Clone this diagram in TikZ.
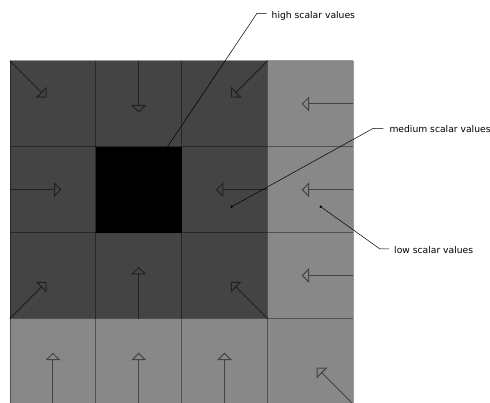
\documentclass[tikz,border=0pt]{standalone}
\usepackage{fontspec}
\setmainfont{DejaVu Sans}
\usetikzlibrary{arrows.meta}
\definecolor{darkcell}{HTML}{444444}
\definecolor{lightcell}{HTML}{888888}
\tikzset{
  cell/.style={rectangle, inner sep=0pt, minimum width=85.8pt, minimum height=85.8pt, draw=none},
  dk/.style={cell, fill=darkcell},
  lt/.style={cell, fill=lightcell},
  bk/.style={cell, fill=black},
  gridline/.style={draw=black, draw opacity=0.4, line width=1pt},
  vec/.style={draw=black, draw opacity=0.5, line width=1pt,
    -{Triangle[open, width=15pt, length=7.5pt]}},
  leader/.style={draw=black, line width=0.5pt},
  dot/.style={circle, fill=black, inner sep=0pt, minimum size=2.6pt},
  lbl/.style={anchor=base west, inner sep=0pt, font=\fontsize{9.2pt}{11pt}\selectfont, text=black}
}
\begin{document}
\begin{tikzpicture}[x=1pt, y=1pt]
\clip (0,0) rectangle (490,-403);
\fill[white] (0,0) rectangle (490,-403);
% cells: centres at x = 52.9 + 85.8 c, y = -(103.9 + 85.8 r)
\node[dk] (c00) at (52.9,-103.9) {};
\node[dk] (c01) at (138.7,-103.9) {};
\node[dk] (c02) at (224.5,-103.9) {};
\node[lt] (c03) at (310.3,-103.9) {};
\node[dk] (c10) at (52.9,-189.7) {};
\node[bk] (c11) at (138.7,-189.7) {};
\node[dk] (c12) at (224.5,-189.7) {};
\node[lt] (c13) at (310.3,-189.7) {};
\node[dk] (c20) at (52.9,-275.5) {};
\node[dk] (c21) at (138.7,-275.5) {};
\node[dk] (c22) at (224.5,-275.5) {};
\node[lt] (c23) at (310.3,-275.5) {};
\node[lt] (c30) at (52.9,-361.3) {};
\node[lt] (c31) at (138.7,-361.3) {};
\node[lt] (c32) at (224.5,-361.3) {};
\node[lt] (c33) at (310.3,-361.3) {};
% grid lines
\foreach \x in {10,95.8,181.6,267.4,353.2}
  \draw[gridline] (\x,-61) -- (\x,-404.2);
\foreach \y in {61,146.8,232.6,318.4,404.2}
  \draw[gridline] (10,-\y) -- (353.2,-\y);
% vectors
\draw[vec] (c00.north west) -- ++(36.7,-36.7);
\draw[vec] (c01.north) -- ++(0,-51.7);
\draw[vec] (c02.north east) -- ++(-36.7,-36.7);
\draw[vec] (c03.east) -- ++(-51.7,0);
\draw[vec] (c10.west) -- ++(51.7,0);
\draw[vec] (c12.east) -- ++(-51.7,0);
\draw[vec] (c13.east) -- ++(-51.7,0);
\draw[vec] (c20.south west) -- ++(36.7,36.7);
\draw[vec] (c21.south) -- ++(0,51.7);
\draw[vec] (c22.south east) -- ++(-36.7,36.7);
\draw[vec] (c23.east) -- ++(-51.7,0);
\draw[vec] (c30.south) -- ++(0,51.7);
\draw[vec] (c31.south) -- ++(0,51.7);
\draw[vec] (c32.south) -- ++(0,51.7);
\draw[vec] (c33.south east) -- ++(-36.7,36.7);
% labels
\node[lbl] (high) at (271.5,-18.5) {high scalar values};
\node[lbl] (med) at (389.3,-132.3) {medium scalar values};
\node[lbl] (low) at (394,-253.3) {low scalar values};
\node[dot] (dmed) at (231.7,-206.7) {};
\node[dot] (dlow) at (320.7,-206.7) {};
\coordinate (bhigh) at (257,-13.3);
\coordinate (bmed) at (373.3,-128.3);
\coordinate (blow) at (380,-249);
\draw[leader] (c11.center) -- (bhigh) -- ([xshift=-5pt]high.west |- bhigh);
\draw[leader] (dmed.center) -- (bmed) -- ([xshift=-6pt]med.west |- bmed);
\draw[leader] (dlow.center) -- (blow) -- ([xshift=-5pt]low.west |- blow);
\end{tikzpicture}
\end{document}
